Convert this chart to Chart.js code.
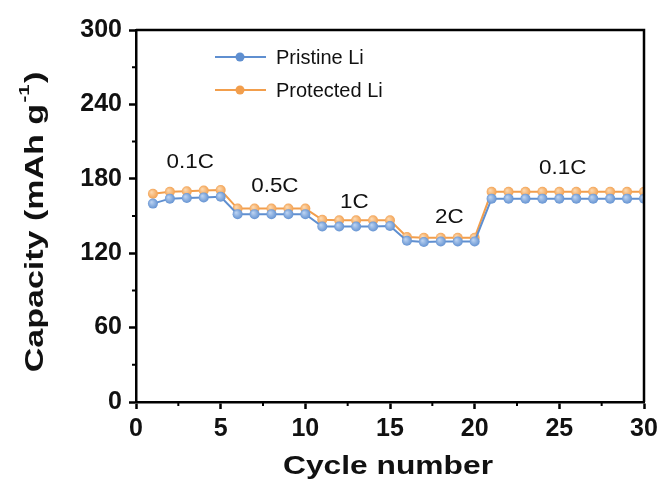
<!DOCTYPE html>
<html>
<head>
<meta charset="utf-8">
<script src="https://cdn.jsdelivr.net/npm/chart.js@4.4.0/dist/chart.umd.min.js"></script>
<style>
html,body{margin:0;padding:0;background:#fff;}
#wrap{width:663px;height:486px;position:relative;}
</style>
</head>
<body>
<div id="wrap"><canvas id="c" width="663" height="486"></canvas></div>
<script>
const cycles = [1,2,3,4,5,6,7,8,9,10,11,12,13,14,15,16,17,18,19,20,21,22,23,24,25,26,27,28,29,30];
const pristine = [160,164,164.5,165,165.5,151.5,151.5,151.5,151.5,151.5,141.5,141.5,141.5,141.5,142,130,129,129.5,129.5,129.5,164,164,164,164,164,164,164,164,164,164];
const prot = [168,169.5,170,170.5,171,156,156,156,156,156,147,146.5,146.5,146.5,146.5,133,132.5,132.5,132.5,132.5,169.5,169.5,169.5,169.5,169.5,169.5,169.5,169.5,169.5,169.5];
const seriesNames = ['Pristine Li','Protected Li'];
const rateLabels = ['0.1C','0.5C','1C','2C','0.1C'];
const rateAt = [[3.2,193.5],[8.2,173.4],[12.9,160.5],[18.5,148.4],[25.2,188.7]];
const yTicks = [0,60,120,180,240,300];
const xTicks = [0,5,10,15,20,25,30];

const BLUE = '#5f8fd0';
const ORANGE = '#f29e4c';
const FONT = 'Arial, "Liberation Sans", sans-serif';

function ptColor(base, light){
  return function(ctx){
    const el = ctx.element;
    if(!el || el.x===undefined || isNaN(el.x)) return base;
    const c = ctx.chart.ctx;
    const g = c.createRadialGradient(el.x-1.5, el.y-1.5, 0.5, el.x, el.y, 5.5);
    g.addColorStop(0, light);
    g.addColorStop(1, base);
    return g;
  };
}

const extras = {
  id:'extras',
  afterDraw(chart){
    const c = chart.ctx, a = chart.chartArea;
    const xs = chart.scales.x, ys = chart.scales.y;
    c.save();
    c.strokeStyle = '#000'; c.lineWidth = 2.5;
    c.beginPath();
    c.moveTo(a.left, a.top); c.lineTo(a.right, a.top); c.lineTo(a.right, a.bottom);
    c.stroke();
    c.lineWidth = 2;
    c.beginPath();
    for(let v=30; v<300; v+=60){
      const p = ys.getPixelForValue(v);
      c.moveTo(a.left, p); c.lineTo(a.left-4, p);
    }
    for(let v=2.5; v<30; v+=5){
      const p = xs.getPixelForValue(v);
      c.moveTo(p, a.bottom); c.lineTo(p, a.bottom+4);
    }
    c.stroke();
    c.fillStyle = '#111';
    c.textAlign = 'center'; c.textBaseline = 'middle';
    rateLabels.forEach((t,i)=>{
      c.save();
      c.translate(xs.getPixelForValue(rateAt[i][0]), ys.getPixelForValue(rateAt[i][1]));
      c.scale(1.12,1);
      c.font = '20px ' + FONT;
      c.fillText(t, 0, 0);
      c.restore();
    });
    const cols = [[BLUE,'#a9c4ea'],[ORANGE,'#fbd0a0']];
    seriesNames.forEach((n,i)=>{
      const y = 57 + i*33;
      c.strokeStyle = cols[i][0]; c.lineWidth = 2;
      c.beginPath(); c.moveTo(215,y); c.lineTo(266,y); c.stroke();
      c.fillStyle = cols[i][0];
      c.beginPath(); c.arc(240,y,4.5,0,Math.PI*2); c.fill();
      c.fillStyle = '#111';
      c.font = '20px ' + FONT;
      c.textAlign = 'left';
      c.fillText(n, 276, y+1);
    });
    c.fillStyle = '#111';
    c.font = 'bold 25px ' + FONT;
    c.textAlign = 'center'; c.textBaseline = 'middle';
    c.save();
    c.translate(388, 467);
    c.scale(1.27,1);
    c.fillText('Cycle number', 0, 0);
    c.restore();
    c.save();
    c.translate(36, 222);
    c.rotate(-Math.PI/2);
    c.scale(1.36,1);
    const main = 'Capacity (mAh g';
    c.font = 'bold 25px ' + FONT;
    const w1 = c.measureText(main).width;
    c.font = 'bold 15px ' + FONT;
    const w2 = c.measureText('-1').width;
    c.font = 'bold 25px ' + FONT;
    const w3 = c.measureText(')').width;
    const tot = w1+w2+w3+2;
    let x0 = -tot/2;
    c.textAlign = 'left';
    c.fillText(main, x0, 0);
    c.font = 'bold 15px ' + FONT;
    c.fillText('-1', x0+w1+1, -11);
    c.font = 'bold 25px ' + FONT;
    c.fillText(')', x0+w1+w2+2, 0);
    c.restore();
    c.restore();
  }
};

new Chart(document.getElementById('c'), {
  type:'line',
  data:{
    labels: cycles,
    datasets:[
      {label:seriesNames[0], data:cycles.map((x,i)=>({x, y:pristine[i]})), borderColor:BLUE, borderWidth:2,
       pointRadius:5, pointBorderWidth:0, pointBackgroundColor:ptColor(BLUE,'#b8d0f0'), tension:0},
      {label:seriesNames[1], data:cycles.map((x,i)=>({x, y:prot[i]})), borderColor:ORANGE, borderWidth:2,
       pointRadius:5, pointBorderWidth:0, pointBackgroundColor:ptColor(ORANGE,'#fcd6ab'), tension:0}
    ]
  },
  options:{
    responsive:false, animation:false, devicePixelRatio:1,
    layout:{padding:{top:30,right:19,left:0,bottom:0}},
    plugins:{legend:{display:false}, tooltip:{enabled:false}},
    scales:{
      x:{type:'linear', min:0, max:30,
         afterBuildTicks(s){ s.ticks = xTicks.map(v=>({value:v})); },
         afterFit(s){ s.height = 84; },
         grid:{drawOnChartArea:false, drawTicks:true, tickLength:7, tickWidth:2.5, tickColor:'#000'},
         border:{display:true, color:'#000', width:2.5},
         ticks:{color:'#111', font:{family:FONT, size:25, weight:'bold'}, padding:5, maxRotation:0}},
      y:{type:'linear', min:0, max:300,
         afterBuildTicks(s){ s.ticks = yTicks.map(v=>({value:v})); },
         afterFit(s){ s.width = 136; },
         grid:{drawOnChartArea:false, drawTicks:true, tickLength:7, tickWidth:2.5, tickColor:'#000'},
         border:{display:true, color:'#000', width:2.5},
         ticks:{color:'#111', font:{family:FONT, size:25, weight:'bold'}, padding:7}}
    }
  },
  plugins:[extras]
});
</script>
</body>
</html>
